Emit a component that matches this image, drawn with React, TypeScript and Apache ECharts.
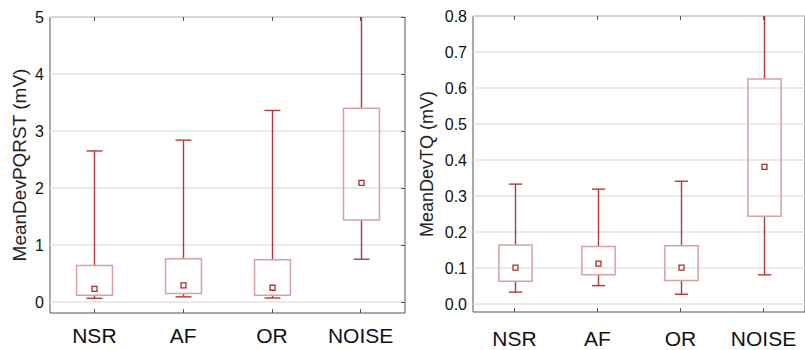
import React, { useEffect, useRef } from "react";
import * as echarts from "echarts";

const categories = ["NSR", "AF", "OR", "NOISE"];

// Left panel: MeanDevPQRST (mV)
const pqrstLow = [0.065, 0.09, 0.07, 0.75];
const pqrstQ1 = [0.12, 0.15, 0.12, 1.44];
const pqrstQ3 = [0.64, 0.76, 0.74, 3.4];
const pqrstHigh = [2.65, 2.84, 3.36, 5.6];
const pqrstMean = [0.23, 0.29, 0.25, 2.09];
const pqrstTicks = [0, 1, 2, 3, 4, 5];

// Right panel: MeanDevTQ (mV)
const tqLow = [0.033, 0.051, 0.027, 0.081];
const tqQ1 = [0.063, 0.081, 0.065, 0.244];
const tqQ3 = [0.164, 0.16, 0.162, 0.625];
const tqHigh = [0.333, 0.319, 0.341, 0.9];
const tqMean = [0.101, 0.112, 0.101, 0.381];
const tqTicks = [0, 0.1, 0.2, 0.3, 0.4, 0.5, 0.6, 0.7, 0.8];

const FONT = "'Liberation Sans', Arial, sans-serif";
const WHISKER = "#b03a3a";
const BOX = "#d9a0a0";
const MEAN = "#a83030";
const FRAME = "#555555";
const GRIDLINE = "#e3e3e3";

function buildData(low: number[], q1: number[], q3: number[], high: number[], mean: number[]) {
  return categories.map((_, i) => [i, low[i], q1[i], q3[i], high[i], mean[i]]);
}

function makeRender(boxFrac: number, capFrac: number) {
  return (params: any, api: any) => {
    const x = api.value(0);
    const low = api.coord([x, api.value(1)]);
    const q1 = api.coord([x, api.value(2)]);
    const q3 = api.coord([x, api.value(3)]);
    const high = api.coord([x, api.value(4)]);
    const mean = api.coord([x, api.value(5)]);
    const band = api.size([1, 0])[0];
    const bw = band * boxFrac;
    const cw = band * capFrac;
    const cx = Math.round(low[0]) + 0.5;
    const ws = { stroke: WHISKER, lineWidth: 1.4 };
    return {
      type: "group",
      children: [
        { type: "line", shape: { x1: cx, y1: high[1], x2: cx, y2: q3[1] }, style: ws },
        { type: "line", shape: { x1: cx - cw / 2, y1: high[1], x2: cx + cw / 2, y2: high[1] }, style: ws },
        { type: "line", shape: { x1: cx, y1: q1[1], x2: cx, y2: low[1] }, style: ws },
        { type: "line", shape: { x1: cx - cw / 2, y1: low[1], x2: cx + cw / 2, y2: low[1] }, style: ws },
        {
          type: "rect",
          shape: { x: cx - bw / 2, y: q3[1], width: bw, height: q1[1] - q3[1] },
          style: { fill: "rgba(255,255,255,0)", stroke: BOX, lineWidth: 1.5 },
        },
        {
          type: "rect",
          shape: { x: cx - 2.5, y: mean[1] - 2.5, width: 5, height: 5 },
          style: { fill: "#ffffff", stroke: MEAN, lineWidth: 1.3 },
        },
      ],
    };
  };
}

export default function App() {
  const ref = useRef<HTMLDivElement>(null);
  useEffect(() => {
    if (!ref.current) return;
    const chart = echarts.init(ref.current, undefined, { renderer: "svg" });
    const catLabel = (margin: number) => ({
      show: true,
      interval: 0,
      hideOverlap: false,
      fontSize: 21,
      color: "#111",
      fontFamily: FONT,
      margin,
    });
    const tickInside = { show: true, inside: true, length: 4, alignWithLabel: true, interval: 0, lineStyle: { color: FRAME } };
    const option: any = {
      animation: false,
      backgroundColor: "#ffffff",
      textStyle: { fontFamily: FONT },
      grid: [
        { left: 50, top: 17, width: 355, height: 296, show: true, borderColor: FRAME, borderWidth: 1, backgroundColor: "transparent" },
        { left: 50, top: 17, width: 355, height: 285, show: false },
        { left: 473, top: 16, width: 338, height: 296, show: true, borderColor: FRAME, borderWidth: 1, backgroundColor: "transparent" },
        { left: 473, top: 16, width: 338, height: 288, show: false },
      ],
      xAxis: [
        { type: "category", gridIndex: 0, data: categories, position: "bottom", axisLine: { show: false }, axisTick: tickInside, axisLabel: catLabel(12) },
        { type: "category", gridIndex: 0, data: categories, position: "top", axisLine: { show: false }, axisTick: tickInside, axisLabel: { show: false } },
        { type: "category", gridIndex: 1, data: categories, show: false },
        { type: "category", gridIndex: 2, data: categories, position: "bottom", axisLine: { show: false }, axisTick: tickInside, axisLabel: catLabel(16) },
        { type: "category", gridIndex: 2, data: categories, position: "top", axisLine: { show: false }, axisTick: tickInside, axisLabel: { show: false } },
        { type: "category", gridIndex: 3, data: categories, show: false },
      ],
      yAxis: [
        {
          type: "value", gridIndex: 0, min: 0, max: 1,
          name: "MeanDevPQRST (mV)", nameLocation: "middle", nameGap: 21,
          nameTextStyle: { fontSize: 19, color: "#222", fontFamily: FONT },
          axisLine: { show: false }, axisTick: { show: false }, axisLabel: { show: false }, splitLine: { show: false },
        },
        {
          type: "value", gridIndex: 1, min: pqrstTicks[0], max: pqrstTicks[pqrstTicks.length - 1], interval: 1,
          axisLine: { show: false }, axisTick: { show: false },
          axisLabel: { fontSize: 16, color: "#111", margin: 6, fontFamily: FONT },
          splitLine: { show: true, lineStyle: { color: GRIDLINE, width: 1.5 } },
        },
        {
          type: "value", gridIndex: 1, position: "right", min: 0, max: 5, interval: 1,
          axisLine: { show: false }, axisTick: { show: true, inside: true, length: 4, lineStyle: { color: FRAME } },
          axisLabel: { show: false }, splitLine: { show: false },
        },
        {
          type: "value", gridIndex: 2, min: 0, max: 1,
          name: "MeanDevTQ (mV)", nameLocation: "middle", nameGap: 37,
          nameTextStyle: { fontSize: 18, color: "#222", fontFamily: FONT },
          axisLine: { show: false }, axisTick: { show: false }, axisLabel: { show: false }, splitLine: { show: false },
        },
        {
          type: "value", gridIndex: 3, min: tqTicks[0], max: tqTicks[tqTicks.length - 1], interval: 0.1,
          axisLine: { show: false }, axisTick: { show: false },
          axisLabel: { fontSize: 16, color: "#111", margin: 6, fontFamily: FONT, formatter: (v: number) => v.toFixed(1) },
          splitLine: { show: true, lineStyle: { color: GRIDLINE, width: 1.5 } },
        },
      ],
      series: [
        {
          type: "custom",
          xAxisIndex: 2,
          yAxisIndex: 1,
          clip: true,
          renderItem: makeRender(0.405, 0.18),
          encode: { x: 0, y: [1, 2, 3, 4, 5] },
          data: buildData(pqrstLow, pqrstQ1, pqrstQ3, pqrstHigh, pqrstMean),
        },
        {
          type: "custom",
          xAxisIndex: 5,
          yAxisIndex: 4,
          clip: true,
          renderItem: makeRender(0.4, 0.16),
          encode: { x: 0, y: [1, 2, 3, 4, 5] },
          data: buildData(tqLow, tqQ1, tqQ3, tqHigh, tqMean),
        },
      ],
    };
    chart.setOption(option);
    return () => chart.dispose();
  }, []);
  return (
    <div
      ref={ref}
      style={{ position: "fixed", left: 0, top: 0, width: 805, height: 350, background: "#fff" }}
    />
  );
}
